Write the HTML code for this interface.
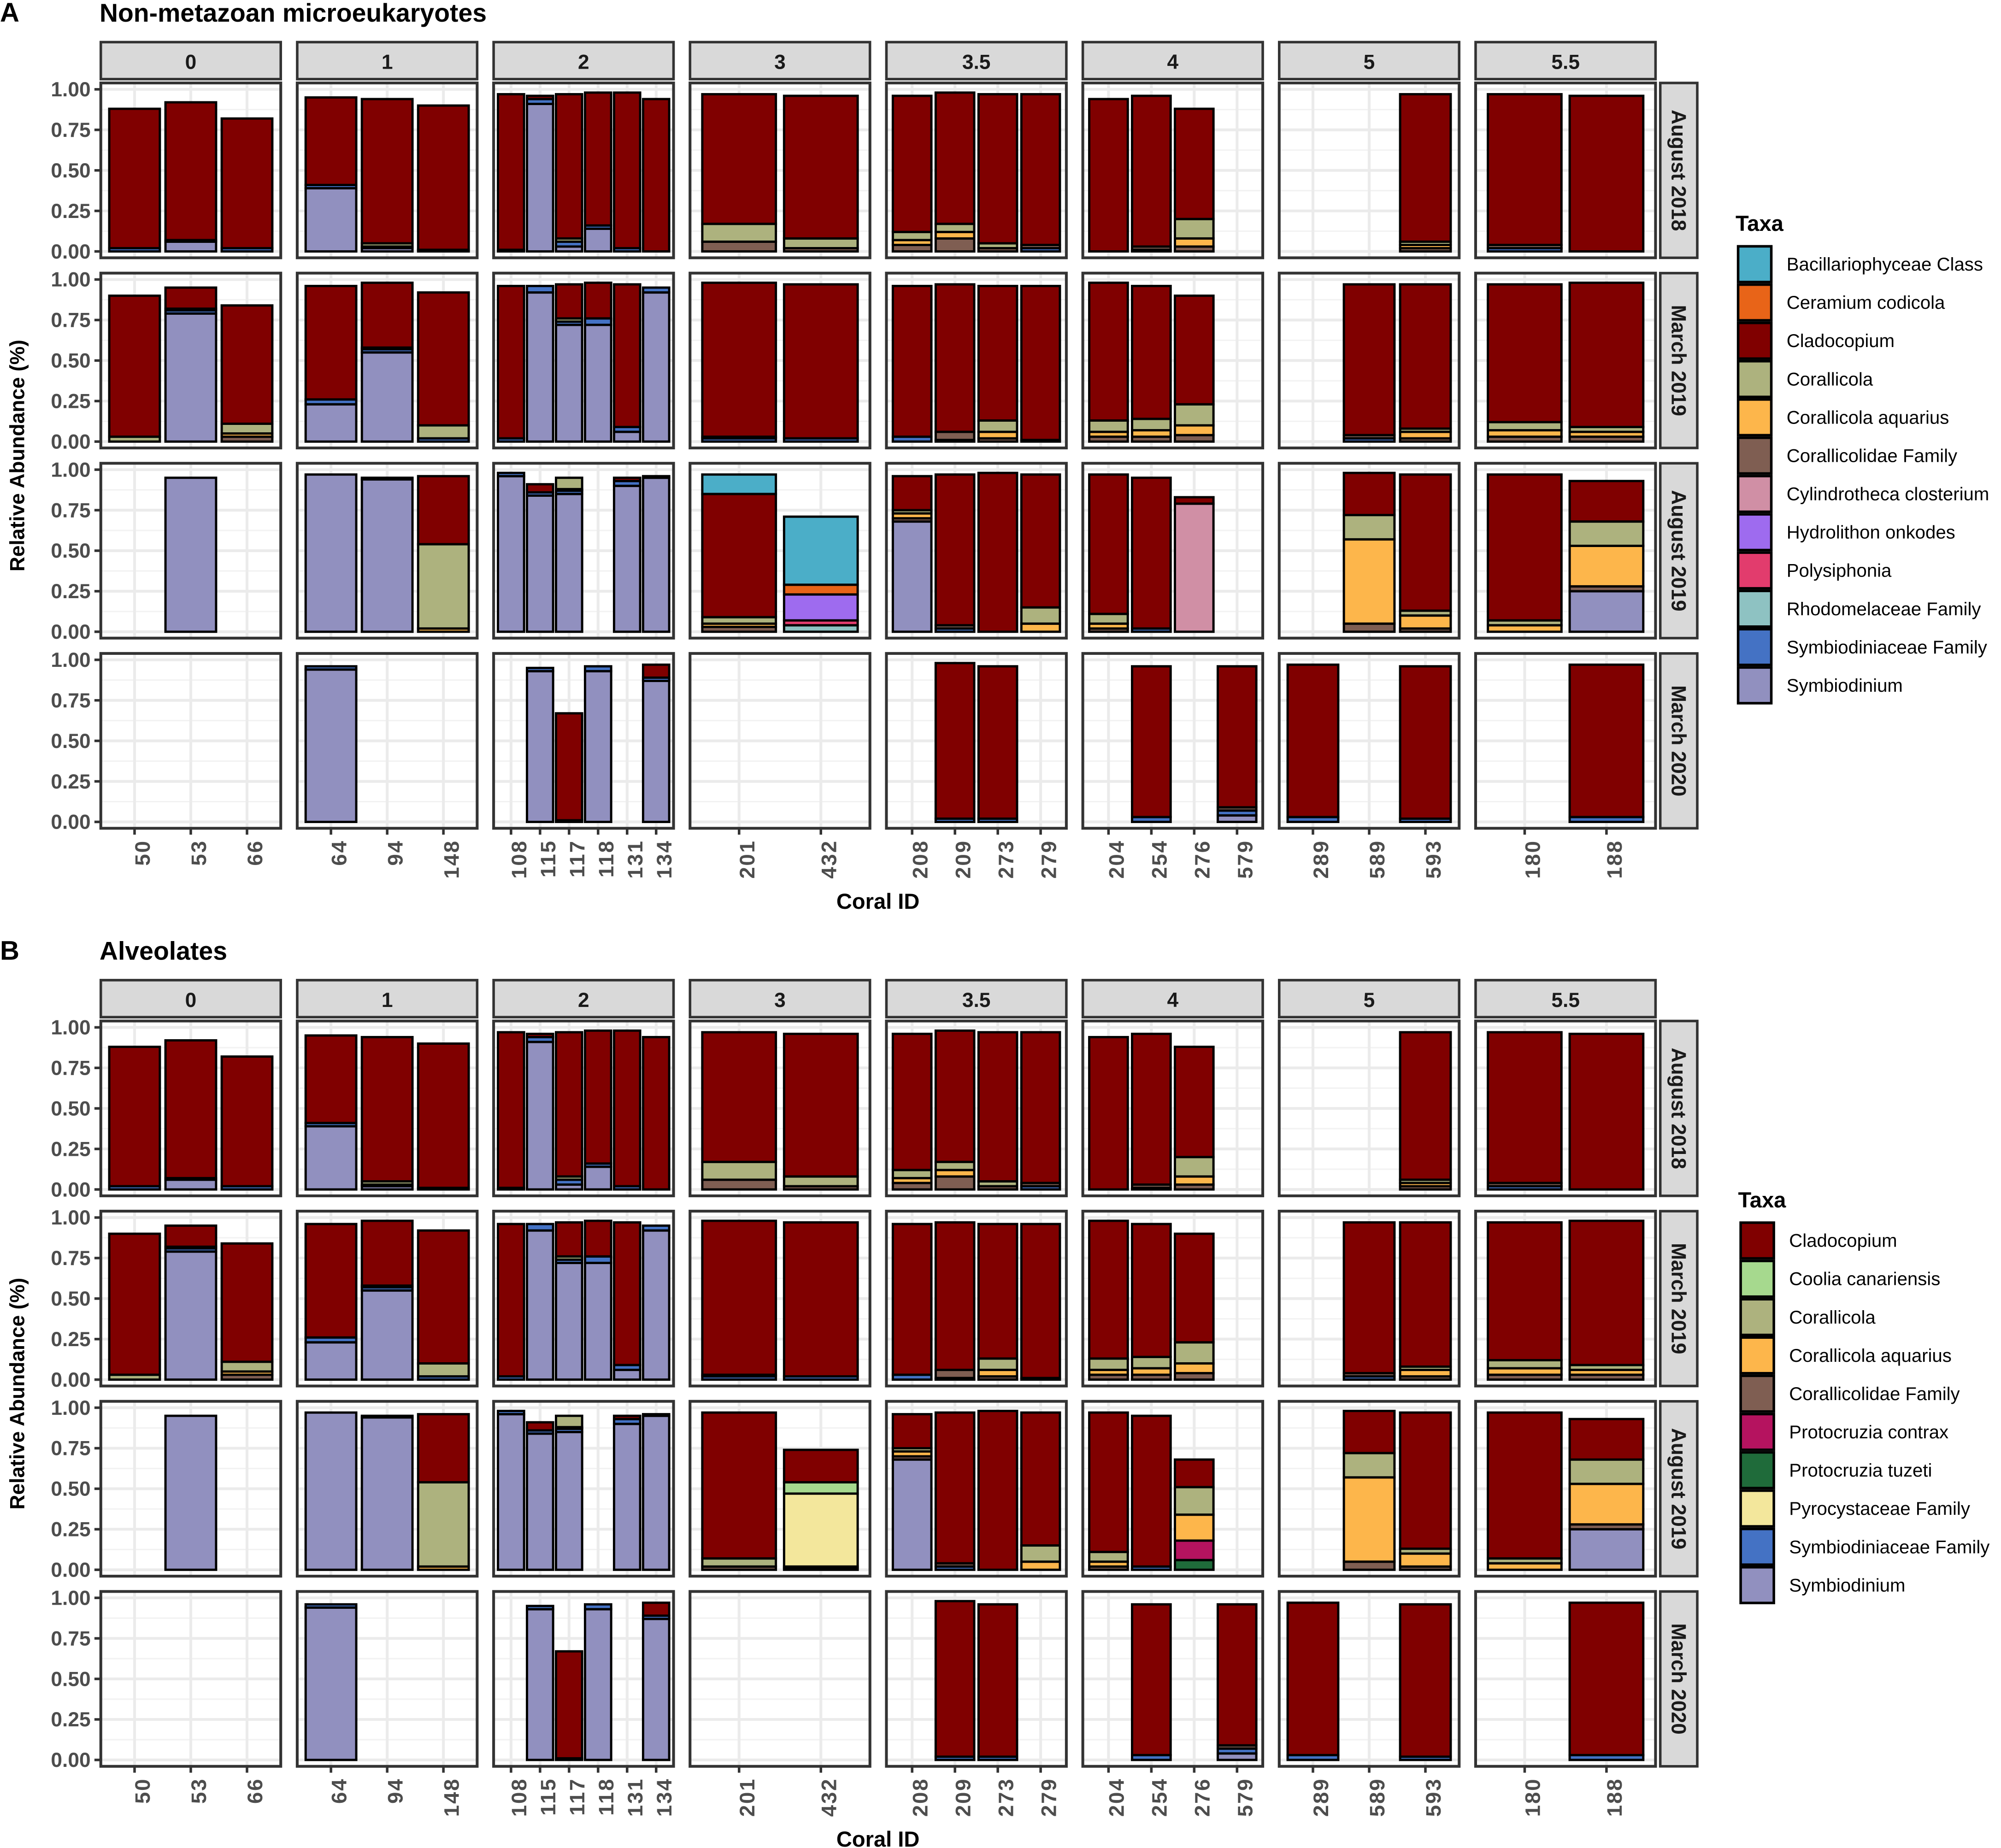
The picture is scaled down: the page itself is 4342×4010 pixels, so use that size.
<!DOCTYPE html>
<html><head><meta charset="utf-8"><style>
html,body{margin:0;padding:0;background:#fff}
svg{display:block}
text{font-family:"Liberation Sans",sans-serif}
</style></head><body>
<svg id="chart" width="4342" height="4010" viewBox="0 0 1568 1448" preserveAspectRatio="none" xmlns="http://www.w3.org/2000/svg"></svg>
<script>
const facetLabels = ["0","1","2","3","3.5","4","5","5.5"];
const corals = [["50","53","66"],["64","94","148"],["108","115","117","118","131","134"],["201","432"],["208","209","273","279"],["204","254","276","579"],["289","589","593"],["180","188"]];
const timepoints = ["August 2018","March 2019","August 2019","March 2020"];
const yTicks = [0,0.25,0.5,0.75,1];
const yTickLabels = ["0.00","0.25","0.50","0.75","1.00"];

const taxaA = ["Bacillariophyceae Class","Ceramium codicola","Cladocopium","Corallicola","Corallicola aquarius","Corallicolidae Family","Cylindrotheca closterium","Hydrolithon onkodes","Polysiphonia","Rhodomelaceae Family","Symbiodiniaceae Family","Symbiodinium"];
const taxaB = ["Cladocopium","Coolia canariensis","Corallicola","Corallicola aquarius","Corallicolidae Family","Protocruzia contrax","Protocruzia tuzeti","Pyrocystaceae Family","Symbiodiniaceae Family","Symbiodinium"];
const taxaColors = {"Bacillariophyceae Class":"#4BAEC8","Ceramium codicola":"#E86418","Cladocopium":"#800000","Corallicola":"#ADB27E","Corallicola aquarius":"#FDB64B","Corallicolidae Family":"#7F5E52","Cylindrotheca closterium":"#D08FA5","Hydrolithon onkodes":"#9E6BEF","Polysiphonia":"#E23C6D","Rhodomelaceae Family":"#8EC2C2","Symbiodiniaceae Family":"#4472C4","Symbiodinium":"#9190BF","Coolia canariensis":"#A6D98E","Protocruzia contrax":"#B5135F","Protocruzia tuzeti":"#1F6B3A","Pyrocystaceae Family":"#F3E79C"};
const codes = {S:"Symbiodinium",SF:"Symbiodiniaceae Family",R:"Rhodomelaceae Family",P:"Polysiphonia",H:"Hydrolithon onkodes",Cy:"Cylindrotheca closterium",CF:"Corallicolidae Family",CA:"Corallicola aquarius",C:"Corallicola",Cl:"Cladocopium",Ce:"Ceramium codicola",B:"Bacillariophyceae Class",Co:"Coolia canariensis",Pc:"Protocruzia contrax",Pt:"Protocruzia tuzeti",Py:"Pyrocystaceae Family"};

// [facet, coral, timepoint, segments bottom->top]
const barsA = [
[0,"50",0,[["SF",.02],["Cl",.86]]],[0,"53",0,[["S",.06],["SF",.01],["Cl",.85]]],[0,"66",0,[["SF",.02],["Cl",.80]]],
[0,"50",1,[["C",.03],["Cl",.87]]],[0,"53",1,[["S",.79],["SF",.02],["C",.01],["Cl",.13]]],[0,"66",1,[["CF",.03],["CA",.02],["C",.06],["Cl",.73]]],
[0,"53",2,[["S",.95]]],
[1,"64",0,[["S",.39],["SF",.02],["Cl",.54]]],[1,"94",0,[["S",.02],["SF",.01],["C",.02],["Cl",.89]]],[1,"148",0,[["SF",.01],["Cl",.89]]],
[1,"64",1,[["S",.23],["SF",.03],["Cl",.70]]],[1,"94",1,[["S",.55],["SF",.02],["C",.01],["Cl",.40]]],[1,"148",1,[["SF",.02],["C",.08],["Cl",.82]]],
[1,"64",2,[["S",.97]]],[1,"94",2,[["S",.94],["SF",.01]]],[1,"148",2,[["CA",.02],["C",.52],["Cl",.42]]],
[1,"64",3,[["S",.94],["SF",.02]]],
[2,"108",0,[["SF",.01],["Cl",.96]]],[2,"115",0,[["S",.91],["SF",.03],["Cl",.02]]],[2,"117",0,[["S",.03],["SF",.03],["C",.02],["Cl",.89]]],[2,"118",0,[["S",.14],["SF",.02],["Cl",.82]]],[2,"131",0,[["SF",.02],["Cl",.96]]],[2,"134",0,[["Cl",.94]]],
[2,"108",1,[["SF",.02],["Cl",.94]]],[2,"115",1,[["S",.92],["SF",.04]]],[2,"117",1,[["S",.72],["SF",.02],["C",.02],["Cl",.21]]],[2,"118",1,[["S",.72],["SF",.04],["Cl",.22]]],[2,"131",1,[["S",.06],["SF",.03],["Cl",.88]]],[2,"134",1,[["S",.92],["SF",.03]]],
[2,"108",2,[["S",.96],["SF",.02]]],[2,"115",2,[["S",.84],["SF",.02],["Cl",.05]]],[2,"117",2,[["S",.85],["SF",.02],["CA",.01],["C",.07]]],[2,"131",2,[["S",.90],["SF",.03],["Cl",.02]]],[2,"134",2,[["S",.95],["SF",.01]]],
[2,"115",3,[["S",.93],["SF",.02]]],[2,"117",3,[["SF",.01],["Cl",.66]]],[2,"118",3,[["S",.93],["SF",.03]]],[2,"134",3,[["S",.87],["SF",.02],["Cl",.08]]],
[3,"201",0,[["CF",.06],["C",.11],["Cl",.80]]],[3,"432",0,[["CF",.02],["C",.06],["Cl",.88]]],
[3,"201",1,[["SF",.02],["C",.01],["Cl",.95]]],[3,"432",1,[["SF",.02],["Cl",.95]]],
[3,"201",2,[["CF",.03],["CA",.02],["C",.04],["Cl",.76],["B",.12]]],[3,"432",2,[["R",.04],["P",.03],["H",.16],["Ce",.06],["B",.42]]],
[4,"208",0,[["CF",.04],["CA",.03],["C",.05],["Cl",.84]]],[4,"209",0,[["CF",.08],["CA",.04],["C",.05],["Cl",.81]]],[4,"273",0,[["CF",.02],["C",.03],["Cl",.92]]],[4,"279",0,[["SF",.02],["CF",.02],["Cl",.93]]],
[4,"208",1,[["SF",.03],["Cl",.93]]],[4,"209",1,[["SF",.01],["CF",.05],["Cl",.91]]],[4,"273",1,[["CF",.02],["CA",.04],["C",.07],["Cl",.83]]],[4,"279",1,[["SF",.01],["Cl",.95]]],
[4,"208",2,[["S",.68],["CF",.02],["CA",.03],["C",.02],["Cl",.21]]],[4,"209",2,[["SF",.02],["CF",.02],["Cl",.93]]],[4,"273",2,[["Cl",.98]]],[4,"279",2,[["CA",.05],["C",.10],["Cl",.82]]],
[4,"209",3,[["SF",.02],["Cl",.96]]],[4,"273",3,[["SF",.02],["Cl",.94]]],
[5,"204",0,[["Cl",.94]]],[5,"254",0,[["SF",.01],["CF",.02],["Cl",.93]]],[5,"276",0,[["CF",.03],["CA",.05],["C",.12],["Cl",.68]]],
[5,"204",1,[["CF",.03],["CA",.03],["C",.07],["Cl",.85]]],[5,"254",1,[["CF",.03],["CA",.04],["C",.07],["Cl",.82]]],[5,"276",1,[["CF",.04],["CA",.06],["C",.13],["Cl",.67]]],
[5,"204",2,[["CF",.02],["CA",.03],["C",.06],["Cl",.86]]],[5,"254",2,[["SF",.02],["Cl",.93]]],[5,"276",2,[["Cy",.79],["Cl",.04]]],
[5,"254",3,[["SF",.03],["Cl",.93]]],[5,"579",3,[["S",.04],["SF",.03],["CF",.02],["Cl",.87]]],
[6,"593",0,[["CF",.02],["CA",.02],["C",.02],["Cl",.91]]],
[6,"589",1,[["SF",.02],["CF",.02],["Cl",.93]]],[6,"593",1,[["CF",.02],["CA",.04],["C",.02],["Cl",.89]]],
[6,"589",2,[["CF",.05],["CA",.52],["C",.15],["Cl",.26]]],[6,"593",2,[["CF",.02],["CA",.08],["C",.03],["Cl",.84]]],
[6,"289",3,[["SF",.03],["Cl",.94]]],[6,"593",3,[["SF",.02],["Cl",.94]]],
[7,"180",0,[["SF",.02],["CF",.02],["Cl",.93]]],[7,"188",0,[["Cl",.96]]],
[7,"180",1,[["CF",.03],["CA",.04],["C",.05],["Cl",.85]]],[7,"188",1,[["CF",.03],["CA",.03],["C",.03],["Cl",.89]]],
[7,"180",2,[["CA",.04],["C",.03],["Cl",.90]]],[7,"188",2,[["S",.25],["CF",.03],["CA",.25],["C",.15],["Cl",.25]]],
[7,"188",3,[["SF",.03],["Cl",.94]]]
];
// Alveolates: same as A except these bars
const barsBOverrides = [
[3,"201",2,[["CF",.02],["C",.05],["Cl",.90]]],
[3,"432",2,[["S",.01],["CF",.01],["Py",.45],["Co",.07],["Cl",.20]]],
[5,"276",2,[["Pt",.06],["Pc",.12],["CA",.16],["C",.17],["Cl",.17]]]
];
const barsB = barsA.map(b=>{const o=barsBOverrides.find(x=>x[0]===b[0]&&x[1]===b[1]&&x[2]===b[2]);return o||b;});

const NS="http://www.w3.org/2000/svg";
const svg=document.getElementById('chart');
function el(tag,attrs,parent,txt){const e=document.createElementNS(NS,tag);for(const k in attrs)e.setAttribute(k,attrs[k]);if(txt!==undefined)e.textContent=txt;(parent||svg).appendChild(e);return e;}

const colX0=79, colStep=153.9, colW=141, rowStep=149, panH=137;
function xScale(f,i){const n=corals[f].length;const u=colW/(n+0.2);return colX0+f*colStep+(0.6+i)*u;}
function bandW(f){return colW/(corals[f].length+0.2)*0.9;}
function yScale(top,v){return top+132-v*127;}

function drawPanel(oy,letter,title,taxa,bars,prefix){
  const g=el('g',{});
  
  
  let t=el('text',{x:0,y:oy+17,'font-size':21,'font-weight':'bold',fill:'#000'},g,letter);
  
  t=el('text',{x:78,y:oy+17,'font-size':20,'font-weight':'bold',fill:'#000'},g,title);
  
  const stripTop=oy+33, panTop0=oy+65;
  for(let f=0;f<facetLabels.length;f++){
    const x0=colX0+f*colStep;
    const s=el('rect',{x:x0,y:stripTop,width:colW,height:29,fill:'#d9d9d9',stroke:'#333','stroke-width':2},g);
    
    t=el('text',{x:x0+colW/2,y:stripTop+21,'font-size':16,'font-weight':'bold','text-anchor':'middle',fill:'#1a1a1a'},g,facetLabels[f]);
    
    for(let r=0;r<4;r++){
      const top=panTop0+r*rowStep;
      const bg=el('rect',{x:x0,y:top,width:colW,height:panH,fill:'#fff'},g);
      
      for(let k=0;k<yTicks.length;k++){
        const y=yScale(top,yTicks[k]);
        const gl=el('line',{x1:x0,x2:x0+colW,y1:y,y2:y,stroke:'#ebebeb','stroke-width':2.2},g);
        
        if(k<yTicks.length-1){const y2=yScale(top,(yTicks[k]+yTicks[k+1])/2);
          const gm=el('line',{x1:x0,x2:x0+colW,y1:y2,y2:y2,stroke:'#f2f2f2','stroke-width':1.1},g);
          }
      }
      corals[f].forEach((c,i)=>{const x=xScale(f,i);
        const gl=el('line',{x1:x,x2:x,y1:top,y2:top+panH,stroke:'#ebebeb','stroke-width':2.2},g);
        });
      if(f===0){
        for(let k=0;k<yTicks.length;k++){const y=yScale(top,yTicks[k]);
          const tk=el('line',{x1:x0-5,x2:x0,y1:y,y2:y,stroke:'#333','stroke-width':2},g);
          
          t=el('text',{x:x0-8,y:y+5.5,'font-size':16,'font-weight':'bold','text-anchor':'end',fill:'#4d4d4d'},g,yTickLabels[k]);
          }
      }
    }
  }
  // bars
  bars.forEach(b=>{
    const [f,coral,r,segs]=b;const i=corals[f].indexOf(coral);
    const top=panTop0+r*rowStep;const cx=xScale(f,i),w=bandW(f);
    let cum=0;
    const bg=el('g',{},g);
    
    segs.forEach(([code,v])=>{
      const name=codes[code];
      const y1=yScale(top,cum),y2=yScale(top,cum+v);
      const rc=el('rect',{x:cx-w/2,y:y2,width:w,height:Math.max(0,y1-y2),fill:taxaColors[name],stroke:'#000','stroke-width':1.8},bg);
      
      cum+=v;});
  });
  // borders, right strips, x ticks
  for(let f=0;f<facetLabels.length;f++){
    const x0=colX0+f*colStep;
    for(let r=0;r<4;r++){const top=panTop0+r*rowStep;
      const b=el('rect',{x:x0,y:top,width:colW,height:panH,fill:'none',stroke:'#333','stroke-width':2.2},g);
      }
    const bot=panTop0+3*rowStep+panH;
    corals[f].forEach((c,i)=>{const x=xScale(f,i);
      const tk=el('line',{x1:x,x2:x,y1:bot,y2:bot+5,stroke:'#333','stroke-width':2},g);
      
      t=el('text',{x:0,y:0,'font-size':16.5,'font-weight':'bold','text-anchor':'end','letter-spacing':'1',fill:'#4d4d4d',transform:`translate(${x+12},${bot+9}) rotate(-90)`},g,c);
      });
  }
  for(let r=0;r<4;r++){const top=panTop0+r*rowStep;
    const s=el('rect',{x:1301,y:top,width:29,height:panH,fill:'#d9d9d9',stroke:'#333','stroke-width':2},g);
    
    t=el('text',{x:0,y:0,'font-size':16,'font-weight':'bold','text-anchor':'middle',fill:'#1a1a1a',transform:`translate(${1310},${top+panH/2}) rotate(90)`},g,timepoints[r]);
    }
  t=el('text',{x:688,y:oy+712,'font-size':17,'font-weight':'bold','text-anchor':'middle',fill:'#000'},g,'Coral ID');
  
  t=el('text',{x:0,y:0,'font-size':16,'font-weight':'bold','text-anchor':'middle',fill:'#000',transform:`translate(19,${oy+357}) rotate(-90)`},g,'Relative Abundance (%)');
  
  return g;
}
function drawLegend(x,y,taxa,prefix){
  const g=el('g',{});
  
  let t=el('text',{x:x,y:y,'font-size':17,'font-weight':'bold',fill:'#000'},g,'Taxa');
  
  taxa.forEach((n,i)=>{const yy=y+12+i*30;
    const r=el('rect',{x:x+2,y:yy,width:26,height:28,fill:taxaColors[n],stroke:'#000','stroke-width':2},g);
    
    t=el('text',{x:x+40,y:yy+19,'font-size':14.5,fill:'#000'},g,n);
    });
}
drawPanel(0,'A','Non-metazoan microeukaryotes',taxaA,barsA,'a');
drawLegend(1360,181,taxaA,'a');
drawPanel(735,'B','Alveolates',taxaB,barsB,'b');
drawLegend(1362,946,taxaB,'b');
</script>
</body></html>
